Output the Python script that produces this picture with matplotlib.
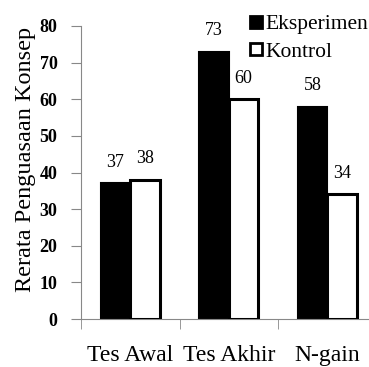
import matplotlib
matplotlib.use('Agg')
import matplotlib.pyplot as plt
import numpy as np
from matplotlib.lines import Line2D

matplotlib.rcParams['font.family'] = 'serif'
matplotlib.rcParams['font.serif'] = ['Liberation Serif', 'DejaVu Serif']

categories = ['Tes Awal', 'Tes Akhir', 'N-gain']
eksperimen = [37, 73, 58]
kontrol = [38, 60, 34]
series_names = ['Eksperimen', 'Kontrol']

FONT = 'Liberation Serif'

fig = plt.figure(figsize=(3.69, 3.67), dpi=100)
ax = fig.add_axes([81 / 369, 48 / 367, 295.5 / 369, 293 / 367])

x = np.arange(len(categories))
w = 0.3
b1 = ax.bar(x - 0.15, eksperimen, w, color='black', edgecolor='black', linewidth=1.5, zorder=2)
b2 = ax.bar(x + 0.15, kontrol, w, color='white', edgecolor='black', linewidth=2.2, zorder=3)

# value labels above bars
for bars in (b1, b2):
    for rect in bars:
        h = rect.get_height()
        ax.annotate('%d' % h, (rect.get_x() + rect.get_width() / 2, h),
                    xytext=(0, 9), textcoords='offset points',
                    ha='center', va='bottom', fontsize=13, family=FONT)

ax.set_xlim(-0.5, 2.5)
ax.set_ylim(0, 80)
ax.set_yticks(range(0, 81, 10))
ax.set_yticklabels([str(v) for v in range(0, 81, 10)], fontsize=13,
                   fontweight='bold', family=FONT)

# category labels centred, tick marks at the boundaries
ax.set_xticks(x)
ax.set_xticklabels(categories, fontsize=17, family=FONT)
ax.set_xticks([-0.5, 0.5, 1.5], minor=True)
ax.tick_params(axis='x', which='major', length=0, pad=19)
ax.tick_params(axis='x', which='minor', length=7, color='#888888', direction='out')
ax.tick_params(axis='y', length=7, color='#888888', pad=10)

for s in ['top', 'right']:
    ax.spines[s].set_visible(False)
ax.spines['left'].set_color('#888888')
ax.spines['bottom'].set_color('#888888')

ax.set_ylabel('Rerata Penguasaan Konsep', fontsize=17.5, family=FONT)
ax.yaxis.set_label_coords(-0.153, 0.545)

handles = [Line2D([], [], marker='s', linestyle='none', markersize=9,
                  markerfacecolor=c, markeredgecolor='black', markeredgewidth=2)
           for c in ('black', 'white')]
fig.legend(handles, series_names, loc='upper left', bbox_to_anchor=(250 / 369, 1 - 14 / 367),
           frameon=False, prop={'family': FONT, 'size': 15.5},
           handlelength=0.6, handletextpad=0.1,
           labelspacing=0.35, borderpad=0, borderaxespad=0)

fig.savefig('out.png', dpi=100)
